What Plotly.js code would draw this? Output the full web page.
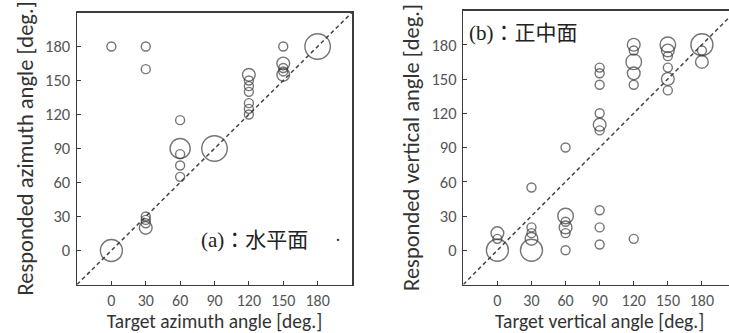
<!DOCTYPE html>
<html>
<head>
<meta charset="utf-8">
<script src="https://cdn.plot.ly/plotly-3.0.1.min.js"></script>
<style>
html,body{margin:0;padding:0;background:#fff;overflow:hidden;width:729px;height:333px;}
#chart{width:737px;height:333px;}
</style>
</head>
<body>
<div id="chart"></div>
<script>
// (a) horizontal plane: target azimuth, responded azimuth, count of responses
const azTarget    = [0, 0, 30, 30, 30, 30, 30, 30, 60, 60, 60, 60, 60, 90, 120, 120, 120, 120, 120, 120, 120, 150, 150, 150, 150, 150, 180];
const azResponded = [180, 0, 180, 160, 30, 27, 24, 20, 115, 90, 85, 75, 65, 90, 155, 150, 145, 140, 130, 125, 120, 180, 165, 161, 158, 155, 180];
const azCount     = [1, 6, 1, 1, 1, 1, 1, 2, 1, 5, 1, 1, 1, 8, 2, 1, 1, 1, 1, 1, 1, 1, 2, 1, 1, 2, 8];

// (b) median plane: target vertical, responded vertical, count of responses
const veTarget    = [0, 0, 0, 30, 30, 30, 30, 30, 60, 60, 60, 60, 60, 60, 90, 90, 90, 90, 90, 90, 90, 90, 90, 120, 120, 120, 120, 120, 120, 150, 150, 150, 150, 150, 150, 180, 180, 180];
const veResponded = [15, 10, 0, 55, 20, 15, 10, 0, 90, 30, 25, 20, 15, 0, 160, 155, 145, 120, 110, 105, 35, 20, 5, 180, 175, 165, 155, 145, 10, 180, 175, 170, 160, 150, 140, 180, 175, 165];
const veCount     = [2, 1, 6, 1, 1, 1, 2, 6, 1, 3, 1, 2, 1, 1, 1, 1, 1, 1, 2, 1, 1, 1, 1, 2, 1, 3, 2, 1, 1, 3, 2, 1, 1, 2, 1, 6, 1, 2];

const tickVals   = [0, 30, 60, 90, 120, 150, 180];
const tickLabels = ['0', '30', '60', '90', '120', '150', '180'];
const axisRange  = [-30, 210];

const panelA = {label: '(a)：水平面', xTitle: 'Target azimuth angle [deg.]', yTitle: 'Responded azimuth angle [deg.]'};
const panelB = {label: '(b)：正中面', xTitle: 'Target vertical angle [deg.]', yTitle: 'Responded vertical angle [deg.]'};

const W = 737, H = 333;
const sizeOf = c => 9 * Math.sqrt(c);
const lineCol = '#3c3c3c';

function bubble(x, y, c, xa, ya) {
  return {
    type: 'scatter', mode: 'markers', x: x, y: y, xaxis: xa, yaxis: ya,
    marker: {size: c.map(sizeOf), sizemode: 'diameter', color: 'rgba(0,0,0,0)',
             line: {color: lineCol, width: 1.4}},
    hoverinfo: 'x+y', showlegend: false, cliponaxis: true
  };
}

const xTickFont = {family: 'Carlito, Lato, sans-serif', size: 16, color: '#555'};
const yTickFont = {family: 'Carlito, Lato, sans-serif', size: 16.5, color: '#555'};
const xTitleFont = {family: 'Carlito, Lato, sans-serif', size: 19.5, color: '#333'};
const yTitleFont = {family: 'Carlito, Lato, sans-serif', size: 22.5, color: '#333'};

function xAxis(domain, title, anchor) {
  return {domain: domain, range: axisRange, anchor: anchor, tickmode: 'array', tickvals: tickVals, ticktext: tickLabels,
    ticks: 'inside', ticklen: 4, tickwidth: 1, tickcolor: lineCol, showgrid: false, zeroline: false,
    showline: true, linecolor: lineCol, linewidth: 1.5, mirror: true, tickfont: xTickFont,
    ticklabelstandoff: 1,
    title: {text: title, font: xTitleFont, standoff: 5}, automargin: false, fixedrange: true};
}
function yAxis(domain, title, anchor) {
  return {domain: domain, range: axisRange, anchor: anchor, tickmode: 'array', tickvals: tickVals, ticktext: tickLabels,
    ticks: 'inside', ticklen: 4, tickwidth: 1, tickcolor: lineCol, showgrid: false, zeroline: false,
    showline: true, linecolor: lineCol, linewidth: 1.5, mirror: true, tickfont: yTickFont,
    ticklabelstandoff: 2,
    title: {text: title, font: yTitleFont, standoff: 5}, automargin: false, fixedrange: true};
}

const layout = {
  width: W, height: H, margin: {l: 0, r: 0, t: 0, b: 0},
  paper_bgcolor: '#fff', plot_bgcolor: '#fff', showlegend: false,
  xaxis:  xAxis([77 / W, 352 / W], panelA.xTitle, 'y'),
  yaxis:  yAxis([(H - 284.5) / H, (H - 12.5) / H], panelA.yTitle, 'x'),
  xaxis2: xAxis([463.3 / W, 736 / W], panelB.xTitle, 'y2'),
  yaxis2: yAxis([(H - 284.5) / H, (H - 10.5) / H], panelB.yTitle, 'x2'),
  shapes: [
    {type: 'line', xref: 'x', yref: 'y', x0: axisRange[0], y0: axisRange[0], x1: axisRange[1], y1: axisRange[1],
     line: {color: '#444', width: 1.5, dash: '4px,3px'}, layer: 'below'},
    {type: 'line', xref: 'x2', yref: 'y2', x0: axisRange[0], y0: axisRange[0], x1: axisRange[1], y1: axisRange[1],
     line: {color: '#444', width: 1.5, dash: '4px,3px'}, layer: 'below'}
  ],
  annotations: [
    {xref: 'paper', yref: 'paper', x: 254 / W, y: (H - 240) / H, xanchor: 'center', yanchor: 'middle', showarrow: false,
     text: panelA.label, font: {family: 'Liberation Serif, Noto Sans CJK JP, serif', size: 21, color: '#222'}, bgcolor: '#fff'},
    {xref: 'paper', yref: 'paper', x: 338 / W, y: (H - 240) / H, xanchor: 'center', yanchor: 'middle', showarrow: false,
     text: '·', font: {family: 'Liberation Serif, serif', size: 18, color: '#222'}},
    {xref: 'paper', yref: 'paper', x: 467 / W, y: (H - 33) / H, xanchor: 'left', yanchor: 'middle', showarrow: false,
     text: panelB.label, font: {family: 'Liberation Serif, Noto Sans CJK JP, serif', size: 21, color: '#222'}, bgcolor: '#fff'}
  ]
};

const data = [
  bubble(azTarget, azResponded, azCount, 'x', 'y'),
  bubble(veTarget, veResponded, veCount, 'x2', 'y2')
];

Plotly.newPlot('chart', data, layout, {displayModeBar: false, staticPlot: true});
</script>
</body>
</html>
